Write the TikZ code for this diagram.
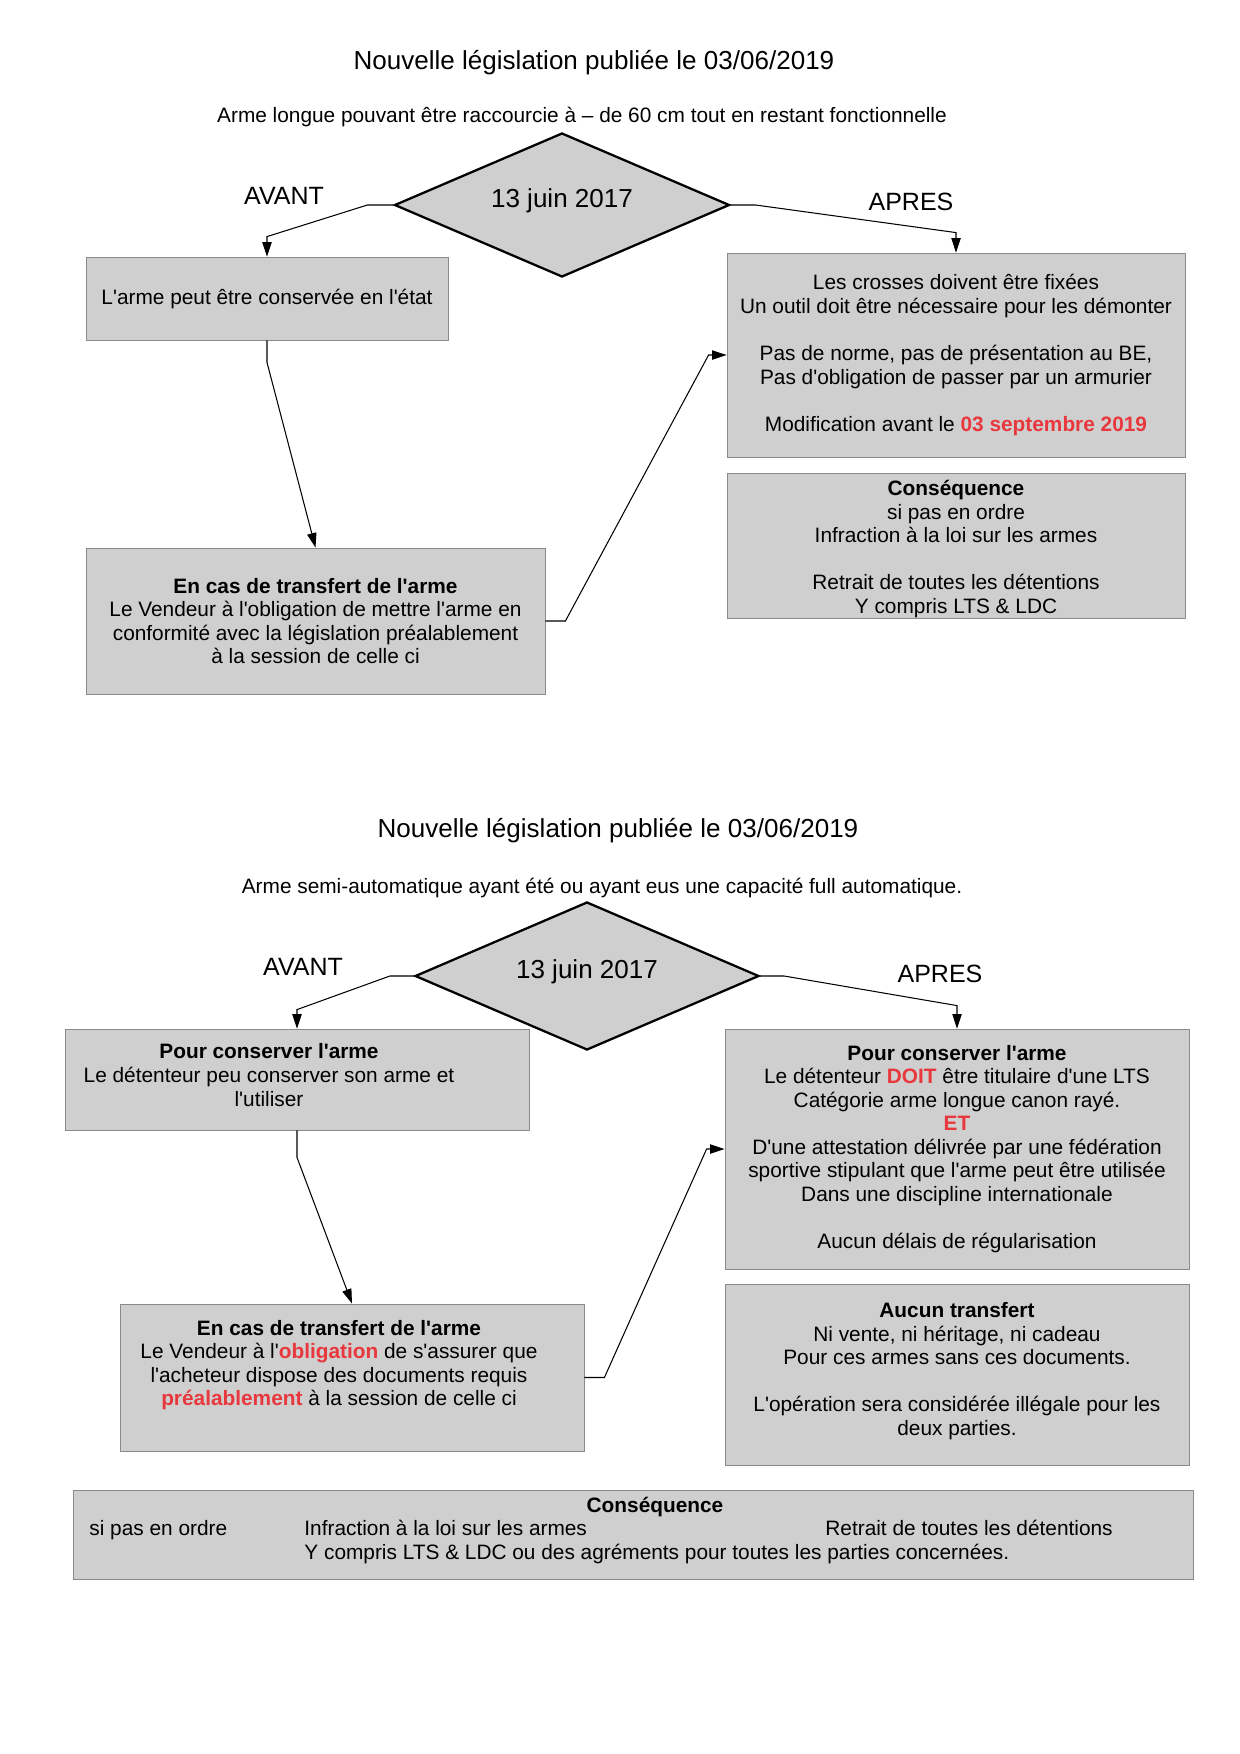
\documentclass[tikz,border=0pt]{standalone}
\usepackage{fontspec}
\setmainfont{Liberation Sans}[Ligatures=TeXOff]
\usepackage{xcolor}
\usetikzlibrary{arrows.meta, positioning, calc, shapes.geometric}
\definecolor{boxgray}{HTML}{CFCFCF}
\definecolor{edgegray}{HTML}{8A8A8A}
\definecolor{alertred}{HTML}{E8373D}
\newcommand{\rouge}[1]{{\color{alertred}\bfseries #1}}

\begin{document}
\begin{tikzpicture}[x=0.48pt, y=-0.48pt,
   font=\fontsize{10}{11.3}\selectfont,
   sz/.style 2 args={minimum width=#1*0.48pt, minimum height=#2*0.48pt},
   box/.style={draw=edgegray, fill=boxgray, align=center, inner sep=0pt},
   date/.style={diamond, aspect=2.3, draw, line width=1.1pt, fill=boxgray, inner sep=0pt,
                text depth=7pt, font=\fontsize{12.5}{14}\selectfont},
   head/.style={font=\fontsize{12.5}{14}\selectfont},
   side/.style={font=\fontsize{12}{14}\selectfont},
   txt/.style={inner sep=0pt, anchor=base west},
   arr/.style={-{Triangle[length=7pt, width=4.5pt]}, line width=0.5pt}]

  \useasboundingbox (0,0) rectangle (1240,1754);

  % --- arme longue
  \node[head] (title1) at (594,63) {Nouvelle législation publiée le 03/06/2019};
  \node (sub1) at (582,117) {Arme longue pouvant être raccourcie à – de 60 cm tout en restant fonctionnelle};
  \node[date, sz={335}{144}] (date1) at (562,205) {13 juin 2017};
  \node[side] (avant1) at (284,196) {AVANT};
  \node[side] (apres1) at (911,202) {APRES};

  \node[box, sz={362}{83}] (keep1) at (267,298.5) {L'arme peut être conservée en l'état};
  \node[box, sz={458}{204}] (after1) at (956,355)
       {Les crosses doivent être fixées\\Un outil doit être nécessaire pour les démonter\\[11.3pt]
        Pas de norme, pas de présentation au BE,\\Pas d'obligation de passer par un armurier\\[11.3pt]
        Modification avant le \rouge{03 septembre 2019}};
  \node[box, sz={458}{145}, below=7.5pt of after1] (csq1) {};
  \node[align=center] (csq1txt) at ($(csq1)+(0,3)$)
       {\textbf{Conséquence}\\si pas en ordre\\Infraction à la loi sur les armes\\[11.3pt]
        Retrait de toutes les détentions\\Y compris LTS \& LDC};
  \node[box, sz={459}{146}] (transf1) at (315.5,621)
       {\textbf{En cas de transfert de l'arme}\\Le Vendeur à l'obligation de mettre l'arme en\\
        conformité avec la législation préalablement\\à la session de celle ci};

  \draw[arr] (date1.west) -- ++(-26,0) -- ($(keep1.north)+(0,-20)$) -- (keep1.north);
  \draw[arr] (date1.east) -- ++(25,0) -- ($(after1.north)+(0,-20)$) -- (after1.north);
  \draw[arr] (keep1.south) -- ++(0,22) -- (transf1.north);
  \draw[arr] (transf1.east) -- ++(20,0) -- ($(after1.west)+(-18,0)$) -- (after1.west);

  % --- arme semi-automatique
  \node[head] (title2) at (618,831) {Nouvelle législation publiée le 03/06/2019};
  \node (sub2) at (602,888) {Arme semi-automatique ayant été ou ayant eus une capacité full automatique.};
  \node[date, sz={344}{148}] (date2) at (587,976) {13 juin 2017};
  \node[side] (avant2) at (303,967) {AVANT};
  \node[side] (apres2) at (940,974) {APRES};

  \node[box, sz={464}{101}] (keepA) at (297,1079.5) {};
  \node[align=center] (keepAtxt) at (269,1075)
       {\textbf{Pour conserver l'arme}\\Le détenteur peu conserver son arme et\\l'utiliser};
  \node[box, sz={464}{240}] (afterA) at (957,1149)
       {\textbf{Pour conserver l'arme}\\Le détenteur \rouge{DOIT} être titulaire d'une LTS\\
        Catégorie arme longue canon rayé.\\\rouge{ET}\\
        D'une attestation délivrée par une fédération\\sportive stipulant que l'arme peut être utilisée\\
        Dans une discipline internationale\\[11.3pt]Aucun délais de régularisation};
  \node[box, sz={464}{181}, below=7pt of afterA] (noTransf) {};
  \node[align=center] (noTransftxt) at ($(noTransf)+(0,-4)$)
       {\textbf{Aucun transfert}\\Ni vente, ni héritage, ni cadeau\\Pour ces armes sans ces documents.\\[11.3pt]
        L'opération sera considérée illégale pour les\\deux parties.};
  \node[box, sz={464}{147}] (transfA) at (352,1377.5) {};
  \node[align=center] (transfAtxt) at (339,1365)
       {\textbf{En cas de transfert de l'arme}\\Le Vendeur à l'\rouge{obligation} de s'assurer que\\
        l'acheteur dispose des documents requis\\\rouge{préalablement} à la session de celle ci};

  \draw[arr] (date2.west) -- ++(-24,0) -- ($(keepA.north)+(0,-19)$) -- (keepA.north);
  \draw[arr] (date2.east) -- ++(24,0) -- ($(afterA.north)+(0,-23)$) -- (afterA.north);
  \draw[arr] (keepA.south) -- ++(0,27) -- (transfA.north);
  \draw[arr] (transfA.east) -- ++(20,0) -- ($(afterA.west)+(-18,0)$) -- (afterA.west);

  % --- consequence commune
  \node[box, sz={1120}{89}] (csq2) at (633,1534.5) {};
  \node[inner sep=0pt, font=\bfseries] (csq2t) at (655,1507) {Conséquence};
  \node[txt] (csq2a) at (89,1535) {si pas en ordre};
  \node[txt] (csq2b) at (304,1535) {Infraction à la loi sur les armes};
  \node[txt] (csq2c) at (825,1535) {Retrait de toutes les détentions};
  \node[txt] (csq2d) at (304,1559) {Y compris LTS \& LDC ou des agréments pour toutes les parties concernées.};
\end{tikzpicture}
\end{document}
